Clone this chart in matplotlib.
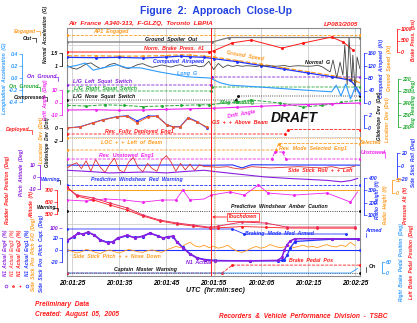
import numpy as np
import matplotlib.pyplot as plt
from matplotlib.lines import Line2D

W, H = 417, 323
plt.rcParams['font.family'] = ['Liberation Sans', 'DejaVu Sans']
plt.rcParams['font.weight'] = 'bold'
plt.rcParams['font.style'] = 'italic'

RED = '#ff1a1a'
ORANGE = '#ff9a1f'
BLUE = '#2233ff'
LBLUE = '#2f9bff'
PURPLE = '#8a1fe0'
MAGENTA = '#ee22ee'
GREEN = '#22aa33'
GRAY = '#7a7a7a'
BLACK = '#111111'

# ---- data (time in s after 20:01:25) ----
xtick_sec = [0, 10, 20, 30, 40, 50, 60]
xtick_lab = ['20:01:25', '20:01:35', '20:01:45', '20:01:55', '20:02:05', '20:02:15', '20:02:25']

spd_t = [-1, 5, 10, 15, 20, 23, 25, 28, 30, 35, 40, 45, 50, 55, 59, 60, 61]
cas = [146, 145, 146, 144, 147, 150, 148, 146, 142, 132, 120, 108, 96, 84, 73, 55, 30]
gspd = [151, 151, 150, 150, 152, 154, 153, 150, 147, 136, 124, 112, 100, 88, 76, 70, 65]

brk_t = [-1, 29, 30, 34, 38, 44.5, 49, 55, 57.5, 59.5]
brk_p = [0, 0, 50, 400, 520, 170, 390, 650, 430, 90]

ng_t = list(np.arange(-1, 54)) + [54.7, 55.3, 56.1, 56.8, 57.4, 57.8, 58.3, 58.7, 59.3, 59.5, 60, 60.4, 61]
ng = [1.02, 0.92, 0.88, 0.97, 1.08, 1.12, 1.00, 0.90, 0.95, 1.06,
      1.10, 1.02, 0.94, 0.90, 0.98, 1.06, 1.09, 1.01, 0.95, 0.99,
      1.04, 1.00, 0.96, 1.02, 1.05, 0.98, 1.00, 1.03, 0.97, 1.00,
      1.18, 0.86, 1.10, 0.94, 1.04, 0.98, 1.02, 0.99, 1.01, 1.00,
      0.98, 1.02, 1.00, 1.01, 0.99, 1.00, 1.02, 0.98, 1.00, 1.01,
      1.00, 0.99, 1.00, 1.03, 0.97,
      0.77, 1.23, 0.54, 1.15, 0.65, 1.81, 0.27, 2.08, 0.38, 1.42, 0.0, 1.35, 0.9]

lg_t = [-1, 1, 2.8, 4.5, 6.6, 9.5, 11.7, 14.4, 18.6, 20.8, 24.4, 29.2, 31.4, 33.5,
        39.8, 48.9, 55, 56, 57, 58, 59, 60, 61]
long_g = [0.18, 0.21, 0.25, 0.13, 0.17, 0.22, 0.17, 0.17, 0.10, 0.07, 0.02, 0.0, -0.08,
          -0.12, -0.15, -0.20, -0.23, -0.12, -0.30, -0.10, -0.35, -0.15, -0.28]

hdg_t = [-1, 3, 7, 11, 15, 19, 23, 27, 29, 35, 38, 44, 49, 53, 57, 61]
hdg = [242, 242.5, 241.5, 242, 243, 242.5, 242, 241.5, 241.5, 239, 237.5, 240, 243.3, 242, 239.5, 237.5]

drift_t = [-1, 5, 10, 15, 20, 25, 30, 35, 40, 45, 50, 55, 61]
drift = [-6.0, -5.8, -6.2, -6.0, -5.5, -5.0, -4.6, -3.8, -3.0, -2.2, -1.6, -1.0, -0.4]

dev_t = [-1, 1.7, 4.4, 6.6, 9.5, 11.7, 13.8, 16.1, 18.0, 20.1, 21.4, 22.9, 24.6, 26.5, 28.6]
gs_dev = [0.0, 0.15, 0.77, 1.23, 1.7, 1.8, 0.8, 1.7, 1.8, 0.45, 0.15, 0.15, 1.5, 0.9, 0.15]
loc_dev = [0.0, 0.2, 0.8, 1.3, 1.75, 1.9, 1.1, 1.85, 1.85, 0.5, 0.2, 0.2, 1.6, 1.0, 0.0]

roll_t = list(np.arange(-1, 29)) + [29, 31, 33, 34, 36, 38, 40, 42, 45, 48, 50, 53, 55, 57, 59, 60]
roll = [-3, 2, 5, -4, 8, -8, 10, -2, -10, 3,
        12, -6, -10, 6, 13, -2, -9, 4, -4, -8,
        9, 16, 6, -8, 4, -6, 3, -7, 2, -1,
        -1, -2, -1, -3, -5, -1, -2, -3, -2, -1, -2, -3, -1, -4, -2, 0]
rud_t = [-1, 10, 20, 29, 34, 36, 38, 50, 61]
rudder = [0.3, 0.0, 0.4, 0.2, 0.5, -2.0, 0.6, 0.4, 0.3]

pitch_t = [-1, 4, 8, 12, 16, 20, 24, 28, 31, 35, 41, 46, 50, 54, 57, 59, 60.5]
pitch = [5.6, 4.5, 3.4, 3.8, 4.2, 3.4, 4.6, 5.6, 4.2, 2.5, 0.0, -1.2, -2.0, -2.8, -4.0, -3.0, -1.2]

ra_t = [-1, 1, 4.5, 8, 11.7, 15, 18.6, 22.2, 25.6, 29.3, 31, 36, 41, 45.5, 52, 60]
radio_ht = [320, 262, 238, 197, 157, 100, 59, 35, 19, 0, 10, 43, 35, 2, 2, 2]
palt = [725, 650, 617, 575, 533, 483, 442, 417, 400, 383, 385, 395, 390, 383, 382, 382]

pink_t = [-1, 3, 7, 11, 15, 19, 22, 23.5, 25, 28, 29.5, 33.5, 36.5, 39.5, 41.5, 47, 54, 59, 60.5]
pink = [-27, -31, -23, -27, -35, -27, -27, 12, -27, -23, -8, 4, -8, 31, 0, -8, 0, -35, 4]
org_t = [-1, 61]
org = [12, 12]

n1_t = [-1, 0.5, 1.3, 2.3, 3.4, 4.7, 6.0, 7.6, 8.7, 9.7, 11.7, 13.3, 15.0, 16.5, 18.2, 19.3,
        20.3, 21.4, 22.2, 23.5, 25.0, 26.5, 28.2, 30.3, 37.7, 43.6, 44.5, 45.0, 45.6, 46.2,
        47.2, 55, 60.5]
n1_eng4 = [73, 82, 89, 86, 91, 84, 73, 67, 70, 78, 84, 78, 82, 89, 82, 78, 80, 82, 69, 56,
           42, 33, 29, 27, 27, 28, 35, 51, 63, 71, 76, 76, 76]
n1_eng1 = [72, 81, 88, 87, 90, 85, 74, 68, 69, 77, 83, 79, 81, 88, 83, 77, 81, 81, 70, 57,
           43, 34, 30, 28, 27, 27, 28, 30, 40, 55, 70, 75, 75]

ssp_t = np.arange(-1, 61)
ss_pitch = [0, -2, -5, -3, 1, -1, -4, -6, -2, 0,
            -3, -5, -2, 1, -1, -3, -4, -1, 0, -2,
            -4, 0, 3, 6, 4, 9, 13, 7, 5, 8,
            4, 6, 3, 5, 8, 2, -2, -4, -1, 3,
            6, 3, 5, 9, 6, 4, 5, 7, 4, 6,
            8, 5, 6, 4, 7, 9, 6, 5, 8, 6,
            13, 7]
ssp_fo_t = [-1, 61]
ss_pitch_fo = [0, 0]

ped_t = [-1, 31.8, 34, 61]
ped_left = [0, 0, 43, 43]
ped_r_t = [-1, 59, 60.5]
ped_right = [0, 0, 25]

# discrete parameters: (times, states)
ap1 = ([-1, 61], [1, 1])
spoiler = ([-1, 29.7, 33.3, 61], [0, 0, 1, 1])
sq_left = ([-1, 29.4, 29.6, 61], [0, 0, 1, 1])
sq_right = ([-1, 29.5, 29.7, 61], [0, 0, 1, 1])
sq_nose = ([-1, 34.8, 35.2, 61], [0, 0, 1, 1])
rev_dep = ([-1, 45.2, 45.8, 61], [0, 0, 1, 1])
rev_sel = ([-1, 43.2, 43.8, 61], [0, 0, 1, 1])
rev_unst = ([-1, 42.3, 43.0, 44.6, 45.3, 61], [0, 0, 1, 1, 0, 0])
pws_red = ([-1, 61], [0, 0])
pws_amb = ([-1, 61], [0, 0])
brk_mode = ([-1, 34, 36.5, 58], [0, 0, 1, 1])
mstr_warn = ([-1, 61], [0, 0])
loc_flag = ([-1, 61], [0, 0])

# ---- figure ----
fig = plt.figure(figsize=(W / 100, H / 100), dpi=100)
fig.patch.set_facecolor('white')
AX = [67 / W, 1 - 276 / H, (360 - 67) / W, (276 - 28) / H]
ax = fig.add_axes(AX)
ax.set_xlim(-1.06, 61.02)
ax.set_ylim(276, 28)
ax.set_yticks([])
ax.set_xticks(xtick_sec)
ax.set_xticklabels(xtick_lab)
ax.tick_params(axis='x', length=0, pad=3, labelsize=4.8)
ax.grid(axis='x', color='#cccccc', lw=0.6)
for s in ax.spines.values():
    s.set_color('#8c8c8c')
    s.set_linewidth(0.8)
for yy in [45, 103, 137, 176, 224]:
    ax.axhline(yy, color='#c4c4c4', lw=0.5, zorder=1)


def cal(v, v0, y0, v1, y1):
    v = np.asarray(v, float)
    return y0 + (v - v0) * (y1 - y0) / (v1 - v0)


SC_SPD = (0, 103, 160, 53)
SC_BRK = (0, 52, 1000, 29)
SC_NG = (1.0, 66, 1.5, 53)
SC_LG = (0.0, 78, 0.4, 54)
SC_HDG = (220, 79, 260, 127)
SC_DRIFT = (0, 102.5, 10, 90)
SC_DEV = (0, 128, 2, 115)
SC_PITCH = (0, 177, 10, 165)
SC_RUD = (0, 165.5, 10, 153.5)
SC_ROLL = (0, 166, 20, 153)
SC_RA = (100, 215, 400, 178)
SC_PALT = (400, 226, 700, 190)
SC_ORG = (0, 193, 50, 180)
SC_N1 = (0, 273, 100, 228)
SC_SSP = (0, 250, 20, 238)
SC_PED = (0, 273, 60, 262)


def trace(t, v, sc, color, lw=0.7, ls='-', mk=None, ms=1.6, me=None, z=3):
    ax.plot(t, cal(v, *sc), color=color, lw=lw, ls=ls, marker=mk, ms=ms,
            markevery=me, zorder=z)


def state(d, rows, color, ls='--', me=0.025, lw=0.6):
    t, s = d
    ax.plot(t, cal(s, 0, rows[0], 1, rows[1]), color=color, lw=lw, ls=ls,
            marker='o', ms=1.1, markevery=me, zorder=3)


def lab(t, y, s, color, size=3.8, rot=0):
    ax.text(t, y, s, color=color, fontsize=size, rotation=rot, ha='center',
            va='center', zorder=6)


# discrete lines
state(ap1, (40, 35), ORANGE)
state(spoiler, (42, 37.5), GRAY, ls='-', me=None, lw=0.9)
state(sq_left, (85, 77), PURPLE)
state(sq_right, (91, 87), GREEN)
state(sq_nose, (100, 96), BLACK, ls=':')
state(rev_dep, (134, 129.5), RED)
state(loc_flag, (138, 133), ORANGE, ls=':')
state(rev_sel, (150, 143.5), ORANGE)
state(rev_unst, (159, 152), MAGENTA)
state(pws_red, (185, 180), BLUE)
state(pws_amb, (211, 206), BLACK, ls=':')
state(brk_mode, (229, 234), BLUE, ls='-', me=0.05)
state(mstr_warn, (273, 268), BLACK, ls=':')

# continuous traces
trace(brk_t, brk_p, SC_BRK, RED, mk='o', ms=1.2)
trace(spd_t, gspd, SC_SPD, ORANGE, lw=0.9, ls='--', mk='o', ms=1.1, me=0.03)
trace(spd_t, cas, SC_SPD, BLUE, lw=0.9, mk='o', ms=1.1, me=0.03)
trace(ng_t, ng, SC_NG, '#444444', lw=0.6)
trace(lg_t, long_g, SC_LG, LBLUE, lw=0.8)
trace(hdg_t, hdg, SC_HDG, GREEN, lw=0.7, ls='--', mk='o', ms=1.1, me=0.03)
trace(drift_t, drift, SC_DRIFT, MAGENTA, lw=0.8, mk='o', ms=1.0, me=0.05)
trace(dev_t, loc_dev, SC_DEV, BLUE, lw=0.7, mk='o', ms=1.1)
trace(dev_t, gs_dev, SC_DEV, '#f05a28', lw=0.7, mk='o', ms=1.1)
trace(rud_t, rudder, SC_RUD, BLUE, lw=0.8)
trace(roll_t, roll, SC_ROLL, '#e03030', lw=0.6)
trace(pitch_t, pitch, SC_PITCH, PURPLE, lw=0.8)
trace(org_t, org, SC_ORG, ORANGE, lw=0.7)
trace(pink_t, pink, SC_ORG, MAGENTA, lw=0.6, mk='o', ms=1.1, me=0.04)
trace(ra_t, palt, SC_PALT, RED, lw=0.6, mk='o', ms=1.0, me=0.04)
trace(ra_t, radio_ht, SC_RA, '#e83060', lw=0.7, mk='o', ms=1.0, me=0.04)
trace(ssp_fo_t, ss_pitch_fo, SC_SSP, BLUE, lw=0.8, mk='o', ms=1.0, me=0.03)
trace(ssp_t, ss_pitch, SC_SSP, ORANGE, lw=0.6)
trace(n1_t, n1_eng1, SC_N1, BLUE, lw=0.9, mk='o', ms=1.3, me=0.012)
trace(n1_t, n1_eng4, SC_N1, PURPLE, lw=1.1, mk='o', ms=1.3, me=0.012)
trace(ped_t, ped_left, SC_PED, RED, lw=0.6, ls='--', mk='o', ms=1.1, me=0.03)
trace(ped_r_t, ped_right, SC_PED, LBLUE, lw=0.6)

ax.axvline(29.45, color=RED, lw=0.7, zorder=4)
ax.axvline(30.4, color=ORANGE, lw=0.5, ls=':', zorder=4)

# labels on traces
lab(8.3, 32, 'AP1  Engaged', ORANGE)
lab(21, 40, 'Ground  Spoiler  Out', BLACK)
lab(21.5, 48, 'Norm.  Brake  Press.  #1', RED)
lab(22.5, 61, 'Computed  Airspeed', BLUE)
lab(24.3, 73, 'Long  G', LBLUE)
lab(36.7, 56, 'Ground  Speed', ORANGE, rot=-10)
lab(52, 62, 'Normal  G', BLACK)
lab(6.5, 81, 'L/G  Left  Squat  Switch', PURPLE)
lab(7, 88.5, 'L/G  Right  Squat  Switch', GREEN)
lab(6.8, 96.5, 'L/G  Nose  Squat  Switch', BLACK)
lab(35, 102.5, 'Mag  Heading', GREEN)
lab(36, 114, 'Drift  Angle', MAGENTA, rot=10)
lab(35.6, 123, 'GS  +  +  Above  Beam', RED)
lab(14.3, 131, 'Rev.  Fully  Deployed  Eng1', RED)
lab(12.7, 143, 'LOC  +  +  Left  of  Beam', ORANGE)
lab(51, 148.5, 'Rev.  Mode  Selected  Eng1', ORANGE)
lab(11.5, 155.5, 'Rev.  Unstowed  Eng1', MAGENTA)
lab(52.5, 171, 'Side  Stick  Roll  +  +  Left', RED)
lab(13.8, 180, 'Predictive  Windshear  Red  Warning', BLUE)
lab(44, 207, 'Predictive  Windshear  Amber  Caution', BLACK)
lab(44, 233, 'Braking  Mode  Med  Armed', BLUE)
lab(50.6, 261, 'Brake  Pedal  Pos', RED)
lab(9.6, 257, 'Side  Stick  Pitch  +  +  Nose  Down', ORANGE)
lab(26.8, 262, 'N1  Actual', PURPLE)
lab(15.5, 269, 'Captain  Master  Warning', BLACK)
ax.annotate('Touchdown', xy=(29.7, 217), xytext=(36.2, 217), color=RED, fontsize=3.8,
            ha='center', va='center', zorder=6,
            arrowprops=dict(arrowstyle='->', color=RED, lw=0.6, shrinkA=0, shrinkB=0),
            bbox=dict(boxstyle='square,pad=0.25', fc='white', ec=RED, lw=0.5))
ax.text(47, 118, 'DRAFT', fontsize=10, color=BLACK, ha='center', va='center', zorder=6)


# ---- side scales ----
def side_axis(xpx, vals, sc, color, side='left', labels=None):
    a = fig.add_axes([xpx / W, AX[1], 1e-4, AX[3]])
    a.set_ylim(276, 28)
    a.patch.set_visible(False)
    a.set_xticks([])
    for s in a.spines.values():
        s.set_visible(False)
    pos = cal(vals, *sc)
    sp = a.spines[side]
    sp.set_visible(True)
    sp.set_color(color)
    sp.set_linewidth(0.6)
    sp.set_bounds(pos.min(), pos.max())
    if side == 'right':
        a.yaxis.tick_right()
    a.set_yticks(pos)
    a.set_yticklabels(labels or [f'{v:g}' for v in vals])
    a.tick_params(axis='y', colors=color, labelsize=3.8, length=2, width=0.5, pad=0.8)


side_axis(22, [0.4, 0.2, 0.0, -0.2, -0.4], SC_LG, LBLUE, labels=['0.4', '0.2', '0.0', '-0.2', '-0.4'])
side_axis(62, [1.5, 1.0], SC_NG, BLACK)
side_axis(62, [10, 0, -10], SC_DRIFT, MAGENTA)
side_axis(62, [0, -2], SC_DEV, BLACK)
side_axis(40, [10, 0, -10], SC_PITCH, PURPLE)
side_axis(57, [700, 600, 500], SC_PALT, RED)
side_axis(62, [100], SC_N1, PURPLE)
side_axis(62, [20, 0, -20], SC_SSP, BLUE)

side_axis(364, [160, 120, 80, 40, 0], SC_SPD, BLUE, side='right')
side_axis(397, [1000, 500, 0], SC_BRK, RED, side='right')
side_axis(398, [220, 230, 240, 250, 260], SC_HDG, GREEN, side='right')
side_axis(364, [2, 0], SC_DEV, BLUE, side='right')
side_axis(397, [20, 0, -20], SC_ROLL, BLUE, side='right')
side_axis(364, [400, 300, 200, 100], SC_RA, BLUE, side='right')
side_axis(392, [50, 0], SC_ORG, ORANGE, side='right')
side_axis(382, [60, 0], SC_PED, LBLUE, side='right')


def ftxt(x, y, s, color=BLACK, size=3.8, rot=0, ha='center', va='center', **kw):
    fig.text(x / W, 1 - y / H, s, color=color, fontsize=size, rotation=rot,
             ha=ha, va=va, **kw)


def bracket(x0, x1, y0, y1, color):
    fig.add_artist(Line2D([x0 / W, x1 / W, x1 / W], [1 - y0 / H, 1 - y0 / H, 1 - y1 / H],
                          color=color, lw=0.5))


# discrete state labels
ftxt(25, 31, 'Engaged', ORANGE)
bracket(36, 40, 31, 35, ORANGE)
ftxt(27, 38, 'Out', BLACK)
bracket(32, 36, 38, 42, BLACK)
ftxt(42, 77, 'On  Ground', PURPLE)
bracket(54, 58, 77, 81, PURPLE)
ftxt(24, 87, 'On  Ground', GREEN)
bracket(36, 40, 87, 91, GREEN)
ftxt(30, 97, 'Compressed', BLACK)
bracket(43, 47, 97, 101, BLACK)
ftxt(18, 130, 'Deployed', RED)
bracket(28, 32, 130, 134, RED)
ftxt(50, 180, 'Warning', BLUE, size=3.5)
bracket(57, 60, 180, 184, BLACK)
ftxt(46, 207.5, 'Warning', BLACK, size=3.5)
bracket(54, 58, 207.5, 211, BLACK)
ftxt(371, 143, 'Selected', ORANGE)
ftxt(373, 152, 'Unstowed', MAGENTA)
bracket(382, 385, 152, 158, MAGENTA)
ftxt(373, 231, 'Armed', BLUE)
bracket(366, 366, 233, 237, BLUE)
ftxt(372, 267, 'On', BLACK)
bracket(366, 366, 267, 272, BLACK)

# rotated axis titles
ftxt(5, 78, 'Longitudinal  Acceleration  (G)', LBLUE, size=3.5, rot=90)
ftxt(46, 34, 'Normal  Acceleration  (G)', BLACK, size=3.4, rot=90)
ftxt(46, 100, 'Drift  Angle  (Deg)', MAGENTA, size=3.4, rot=90)
ftxt(41, 140, 'Localizer  Dev  (Dot)', ORANGE, size=3.4, rot=90)
ftxt(47.5, 142, 'Glideslope  Dev  (Dot)', BLACK, size=3.4, rot=90)
ftxt(8, 190, 'Rudder  Pedal  Position  (Deg)', RED, size=3.4, rot=90)
ftxt(22, 172, 'Pitch  Attitude  (Deg)', PURPLE, size=3.4, rot=90)
ftxt(32, 205, 'Altitude  (ft)', RED, size=3.4, rot=90)
ftxt(6, 253, 'N1  Actual  Eng4  (%)', PURPLE, size=3.3, rot=90)
ftxt(13, 253, 'N1  Actual  Eng3  (%)', '#ff5050', size=3.3, rot=90)
ftxt(20, 253, 'N1  Actual  Eng2  (%)', RED, size=3.3, rot=90)
ftxt(27, 253, 'N1  Actual  Eng1  (%)', BLUE, size=3.3, rot=90)
ftxt(34, 254, 'Side  Stick  Pos  Pitch  F/O  (Deg)', ORANGE, size=3.3, rot=90)
ftxt(41, 254, 'Side  Stick  Pos  Pitch  Capt.  (Deg)', BLUE, size=3.3, rot=90)
for xm, c, m in [(6, PURPLE, 'o'), (13, '#ff5050', '*'), (20, RED, '+'), (27, BLUE, 'o')]:
    fig.add_artist(Line2D([xm / W], [1 - 286 / H], color=c, marker=m, ms=2,
                          mfc='none', mew=0.5))

ftxt(381, 68, 'Computed  Airspeed  (Kt)', BLUE, size=3.5, rot=90)
ftxt(389, 68, 'Ground  Speed  (Kt)', ORANGE, size=3.5, rot=90)
ftxt(414, 40, 'Brake  Press.  (psi)', RED, size=3.3, rot=90)
ftxt(413, 103, 'Mag  Heading  (Deg)', GREEN, size=3.5, rot=90)
ftxt(379, 116, 'Glideslope  Dev  (Dot)', BLACK, size=3.3, rot=90)
ftxt(387, 120, 'Localizer  Dev  (Dot)', ORANGE, size=3.3, rot=90)
ftxt(413, 162, 'Side  Stick  Roll  (Deg)', BLUE, size=3.3, rot=90)
ftxt(378, 200, 'Radio  Height  (ft)', BLUE, size=3.3, rot=90)
ftxt(386, 205, 'Radio  Height  (ft)', ORANGE, size=3.3, rot=90)
ftxt(405, 206, 'Pressure  Alt  (ft)', RED, size=3.3, rot=90)
ftxt(402, 262, 'Right  Brake  Pedal  Position  (Deg)', LBLUE, size=3.3, rot=90)
ftxt(411, 262, 'Left  Brake  Pedal  Position  (Deg)', RED, size=3.3, rot=90)

# titles and footer
ftxt(216, 11, 'Figure  2:  Approach  Close-Up', '#2040e0', size=7.5, style='normal')
ftxt(68, 24, 'Air  France  A340-313,  F-GLZQ,  Toronto  LBPIA', RED, size=4.6, ha='left')
ftxt(358, 24, 'LP083/2005', RED, size=4.6, ha='right')
ftxt(215, 291, 'UTC  (hr:min:sec)', BLACK, size=5)
ftxt(35, 305, 'Preliminary  Data', RED, size=4.8, ha='left')
ftxt(35, 315, 'Created:  August  05,  2005', RED, size=4.8, ha='left')
ftxt(303, 316, 'Recorders  &  Vehicle  Performance  Division  -  TSBC', RED, size=4.8)

fig.savefig('out.png', dpi=100)
